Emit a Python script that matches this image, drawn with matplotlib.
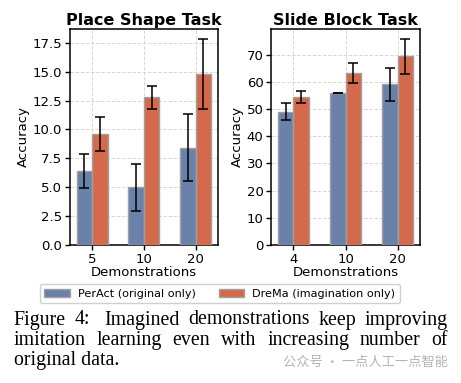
import matplotlib
matplotlib.use("Agg")
import matplotlib.pyplot as plt
import numpy as np
from matplotlib.patches import Patch

# ---- data ----
place_demos = ["5", "10", "20"]
place_peract = [6.4, 5.0, 8.4]
place_peract_err = [1.5, 2.05, 2.9]
place_drema = [9.6, 12.8, 14.8]
place_drema_err = [1.5, 1.0, 3.0]

slide_demos = ["4", "10", "20"]
slide_peract = [49.0, 56.0, 59.0]
slide_peract_err = [3.2, 0.0, 6.0]
slide_drema = [54.5, 63.3, 69.3]
slide_drema_err = [2.2, 3.7, 6.3]

legend_labels = ["PerAct (original only)", "DreMa (imagination only)"]
titles = ["Place Shape Task", "Slide Block Task"]
caption_lines = [
    ["Figure", "4:", "Imagined", "demonstrations", "keep", "improving"],
    ["imitation", "learning", "even", "with", "increasing", "number", "of"],
    ["original", "data."],
]
watermark = "公众号 · 一点人工一点智能"

BLUE = "#6a82aa"
ORANGE = "#d46a4b"
EDGE = "#a0a0a0"

fig = plt.figure(figsize=(4.61, 3.83), dpi=100)
ax1 = fig.add_axes([0.1518, 0.3603, 0.321, 0.564])
ax2 = fig.add_axes([0.5879, 0.3603, 0.3232, 0.564])

w = 0.3
for ax, cats, p, pe, d, de, title in [
    (ax1, place_demos, place_peract, place_peract_err, place_drema, place_drema_err, titles[0]),
    (ax2, slide_demos, slide_peract, slide_peract_err, slide_drema, slide_drema_err, titles[1]),
]:
    x = np.arange(len(cats))
    ax.bar(x - w / 2, p, w, yerr=pe, color=BLUE, edgecolor=EDGE, linewidth=1.0,
           capsize=3.5, error_kw=dict(elinewidth=1.1, capthick=1.1, ecolor="black"), zorder=3)
    ax.bar(x + w / 2, d, w, yerr=de, color=ORANGE, edgecolor=EDGE, linewidth=1.0,
           capsize=3.5, error_kw=dict(elinewidth=1.1, capthick=1.1, ecolor="black"), zorder=3)
    ax.set_xticks(x)
    ax.set_xticklabels(cats)
    ax.set_title(title, fontsize=11.5, fontweight="bold", pad=3)
    ax.set_xlabel("Demonstrations", fontsize=9.5, labelpad=0)
    ax.set_ylabel("Accuracy", fontsize=9.5, labelpad=2)
    ax.tick_params(labelsize=9.5, length=3.5, width=1, pad=2)
    ax.grid(True, linestyle="--", color="#d8d8d8", linewidth=0.7, zorder=0)
    ax.set_axisbelow(True)
    for s in ax.spines.values():
        s.set_linewidth(1.1)

ax1.set_yticks(np.arange(0, 18, 2.5))
ax2.set_yticks(np.arange(0, 71, 10))

handles = [Patch(facecolor=BLUE, edgecolor=EDGE), Patch(facecolor=ORANGE, edgecolor=EDGE)]
fig.legend(handles, legend_labels, loc="center", bbox_to_anchor=(0.477, 0.233), ncol=2,
           fontsize=8.1, frameon=True, handlelength=2.3, handleheight=0.75, handletextpad=0.7,
           columnspacing=2.0, borderpad=0.4, fancybox=True, framealpha=1, edgecolor="#d0d0d0")

# ---- caption, justified ----
W, H = 461, 383
left_px, right_px = 13.5, 448
baselines = [324.5, 345, 365.5]
cap_font = dict(family="Liberation Serif", fontsize=14.3, color="black")
renderer = fig.canvas.get_renderer()
for li, (words, base) in enumerate(zip(caption_lines, baselines)):
    yb = 1 - base / H
    if li == len(caption_lines) - 1:
        fig.text(left_px / W, yb, " ".join(words), ha="left", va="baseline", **cap_font)
        continue
    widths = []
    for wd in words:
        t = fig.text(0, 0, wd, **cap_font)
        widths.append(t.get_window_extent(renderer).width)
        t.remove()
    # a sentence-end style double space after "4:"
    weights = [1.0] * (len(words) - 1)
    if words[1] == "4:":
        weights[1] = 1.6
    gap = (right_px - left_px - sum(widths)) / sum(weights)
    xpos = left_px
    for i, (wd, wv) in enumerate(zip(words, widths)):
        fig.text(xpos / W, yb, wd, ha="left", va="baseline", **cap_font)
        if i < len(weights):
            xpos += wv + gap * weights[i]

fig.text(448 / W, 1 - 362 / H, watermark, ha="right", va="center", fontsize=9.5,
         color="#b4b4b4", family=["Noto Sans CJK SC", "DejaVu Sans"])

fig.savefig("out.png", dpi=100)
